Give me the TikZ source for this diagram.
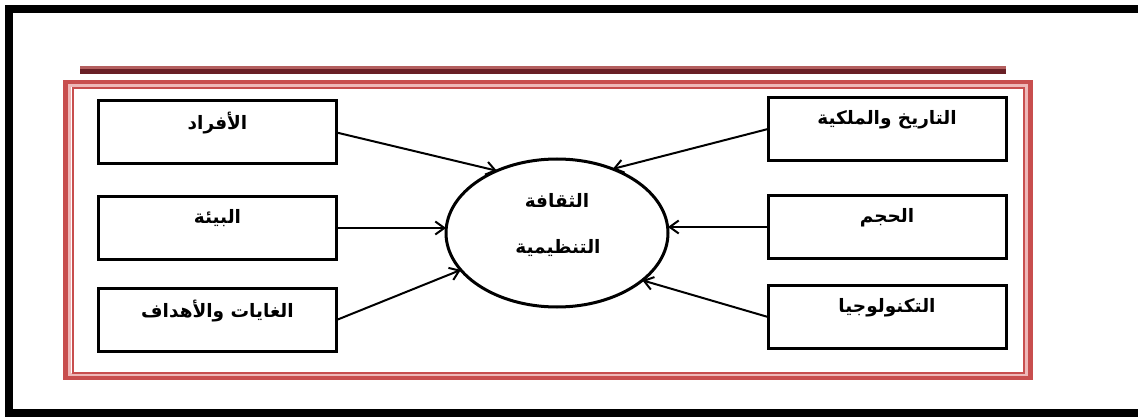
\documentclass[tikz,border=0pt]{standalone}
\usepackage{fontspec}
\usetikzlibrary{shapes.geometric,arrows.meta}
\newfontfamily\arabicfont[Script=Arabic]{DejaVu Sans}
\TeXXeTstate=1
\definecolor{framered}{RGB}{200,78,78}
\definecolor{framepink}{RGB}{238,184,184}
\definecolor{rulemaroon}{RGB}{105,32,38}
\definecolor{rulerose}{RGB}{180,95,95}
\tikzset{
  factor/.style={draw, line width=3pt, minimum width=238pt, minimum height=63pt, inner sep=0pt, outer sep=0pt},
  hub/.style={ellipse, draw, line width=3pt, minimum width=222pt, minimum height=148pt, inner sep=0pt, outer sep=0pt},
  lbl/.style={font=\arabicfont\bfseries\fontsize{18.5}{21}\selectfont, inner sep=0pt},
  link/.style={line width=2pt, -{Straight Barb[length=9pt,width=13pt]}},
}
\begin{document}
\begin{tikzpicture}[x=1pt,y=-1pt]
\useasboundingbox (0,0) rectangle (1138,417);
\clip (0,0) rectangle (1138,417);
% page frame
\draw[line width=8pt] (8.5,8.7) rectangle (1160,412.8);
% double rule above the panel
\draw[rulerose, line width=2.4pt] (80,67.6) -- (1006,67.6);
\draw[rulemaroon, line width=4.4pt] (80,71.6) -- (1006,71.6);
% panel border
\draw[framered, line width=5pt] (65.5,82.5) rectangle (1030.5,377.5);
\draw[framepink, line width=3pt] (69.5,86) rectangle (1026.5,374.5);
\draw[framered, line width=1.6pt] (72.8,88) rectangle (1024,372.8);
% factor boxes
\node[factor] (tL) at (217.5,132.5) {};
\node[factor] (mL) at (217.5,228) {};
\node[factor] (bL) at (217.5,320) {};
\node[factor] (tR) at (887,129) {};
\node[factor] (mR) at (887,227) {};
\node[factor] (bR) at (887,317) {};
\node[lbl] (tLt) at ([yshift=9.5pt]tL.center) {\beginR الأفراد\endR};
\node[lbl] (mLt) at ([yshift=9.5pt]mL.center) {\beginR البيئة\endR};
\node[lbl] (bLt) at ([yshift=8.5pt]bL.center) {\beginR الغايات والأهداف\endR};
\node[lbl] (tRt) at ([yshift=9.5pt]tR.center) {\beginR التاريخ والملكية\endR};
\node[lbl] (mRt) at ([yshift=9.5pt]mR.center) {\beginR الحجم\endR};
\node[lbl] (bRt) at ([yshift=9.5pt]bR.center) {\beginR التكنولوجيا\endR};
% central concept
\node[hub] (c) at (557,233) {};
\node[lbl] (c1) at (557,200) {\beginR الثقافة\endR};
\node[lbl] (c2) at (558,248) {\beginR التنظيمية\endR};
% influences
\draw[link] (tL.east) -- (c.134.5);
\draw[link] (tR.west) -- (c.49.8);
\draw[link] (mL.east) -- (mL.east -| c.west);
\draw[link] (mR.west) -- (mR.west -| c.east);
\draw[link] (bL.east) -- (c.201.8);
\draw[link] (bR.west) -- (c.331.7);
\end{tikzpicture}
\end{document}
